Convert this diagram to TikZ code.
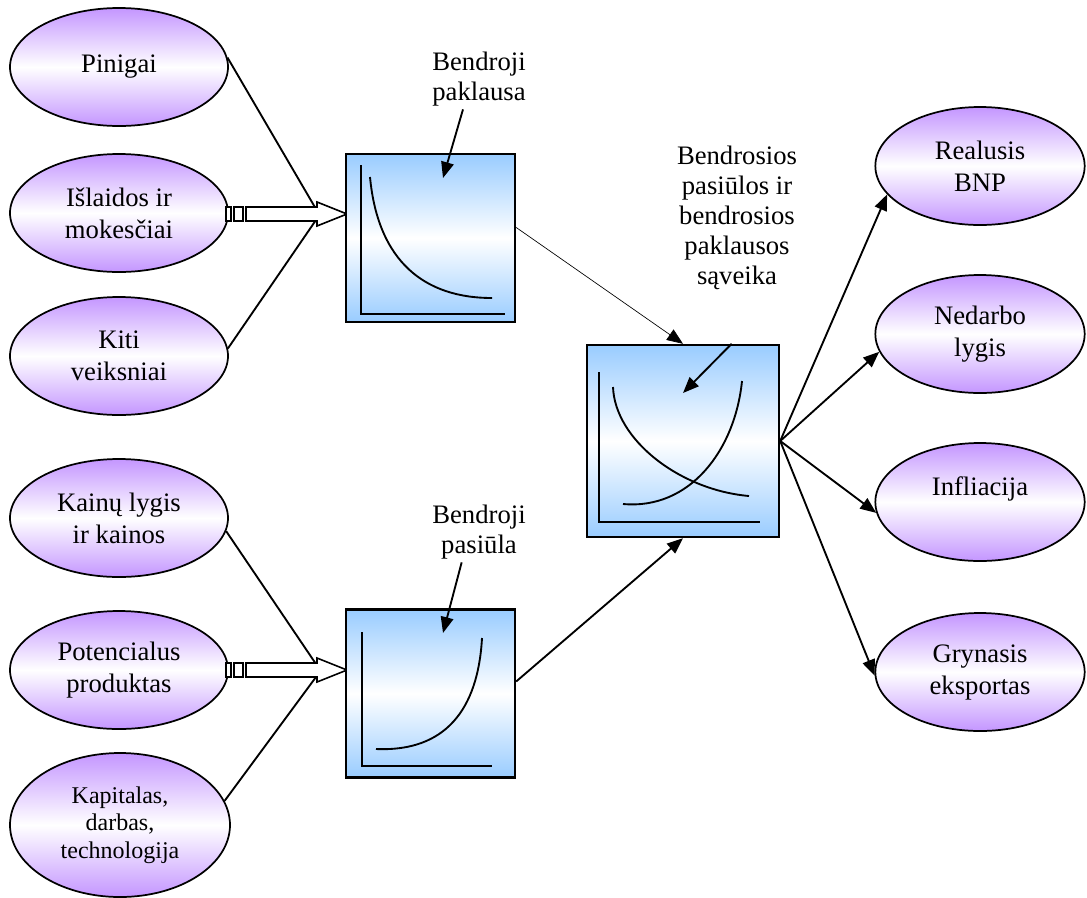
\documentclass[tikz,border=0pt]{standalone}
\usepackage{fontspec}
\setmainfont{Liberation Serif}
\usetikzlibrary{shapes.geometric,arrows.meta,calc}

\definecolor{lila}{RGB}{196,150,255}
\definecolor{melyna}{RGB}{153,204,255}

\tikzset{
  veiksnys/.style={ellipse, draw, line width=1.3pt, top color=lila, bottom color=lila, middle color=white,
    minimum width=163.5pt, minimum height=88.5pt, inner sep=0pt, align=center, font=\fontsize{20}{24}\selectfont},
  rezultatas/.style={veiksnys, minimum width=157pt},
  grafikas/.style={rectangle, draw, line width=1.8pt, top color=melyna, bottom color=melyna, middle color=white,
    minimum width=126.75pt, minimum height=126pt, inner sep=0pt},
  zyme/.style={align=center, inner sep=2pt, font=\fontsize{20}{23}\selectfont},
  linija/.style={line width=1.4pt},
  rodykle/.style={line width=1.4pt, -{Triangle[length=12pt,width=9.5pt]}},
  kreive/.style={line width=1.4pt},
  stripearrow/.pic={
    \draw[line width=1.1pt, fill=white] (0,-7) rectangle (5,7) (8,-7) rectangle (17,7);
    \draw[line width=1.2pt, fill=white] (20,-7) -- (91,-7) -- (91,-12) -- (121,0) -- (91,12) -- (91,7) -- (20,7) -- cycle;
  }
}

\begin{document}
\begin{tikzpicture}[x=0.75pt,y=0.75pt,yscale=-1,xscale=1]
\useasboundingbox (0,0) rectangle (1087,897);

%Ellipses - veiksniai
\node[veiksnys] (pin) at (119,67) {Pinigai};
\node[veiksnys] (isl) at (119,213) {Išlaidos ir\\mokesčiai};
\node[veiksnys] (kit) at (119,356) {Kiti\\veiksniai};
\node[veiksnys] (kai) at (119,518) {Kainų lygis\\ir kainos};
\node[veiksnys] (pot) at (119,670) {Potencialus\\produktas};
\node[veiksnys, minimum width=165pt, minimum height=108pt, font=\fontsize{18}{20.6}\selectfont] (kap) at (120,825) {Kapitalas,\\darbas,\\technologija};

%Ellipses - rezultatai
\node[rezultatas] (bnp) at (980,166) {Realusis\\BNP};
\node[rezultatas] (ned) at (980,334) {Nedarbo\\lygis};
\node[rezultatas] (inf) at (980,502) {Infliacija\\\mbox{}};
\node[rezultatas] (gry) at (980,672) {Grynasis\\eksportas};

%Lines into the striped arrows
\coordinate (inA) at (316,209);
\coordinate (inB) at (316,220);
\coordinate (inC) at (316,664);
\coordinate (inD) at (316,677);
\draw[linija] (pin.5) -- (inA);
\draw[linija] (kit.4) -- (inB);
\draw[linija] (kai.-7) -- (inC);
\draw[linija] (kap.13) -- (inD);

%Striped arrows
\pic at (226,214) {stripearrow};
\pic at (226,670) {stripearrow};

%Graph boxes
\node[grafikas] (dem) at (430.5,238) {};
\node[grafikas] (sup) at (430.5,693.5) {};
\node[grafikas, minimum width=144pt, minimum height=144pt] (sav) at (683,441) {};

%Curves - paklausa
\draw[kreive] (361,165) -- (361,314) -- (505,314);
\draw[kreive] (370,177) .. controls (378,262) and (425,298) .. (492,298);
%Curves - pasiula
\draw[kreive] (362,632) -- (362,766) -- (492,766);
\draw[kreive] (376,749) .. controls (445,752) and (478,710) .. (482,638);
%Curves - saveika
\draw[kreive] (599,372) -- (599,522) -- (760,522);
\draw[kreive] (613,387) .. controls (615,440) and (680,490) .. (749,496);
\draw[kreive] (623,504) .. controls (690,510) and (735,450) .. (742,381);

% Text Nodes
\node[zyme] (lblD) at (479,79) {Bendroji\\paklausa};
\node[zyme] (lblS) at (479,532) {Bendroji\\pasiūla};
\node[zyme, font=\fontsize{20}{22.5}\selectfont] (lblV) at (737,218) {Bendrosios\\pasiūlos ir\\bendrosios\\paklausos\\sąveika};

%Label arrows
\coordinate (dtip) at (443,178);
\coordinate (stipS) at (443,633);
\coordinate (stipV) at (683,393);
\draw[rodykle] ([xshift=-12pt]lblD.south) -- (dtip);
\draw[rodykle] ([xshift=-13pt]lblS.south) -- (stipS);
\draw[rodykle] ($(sav.north)!0.5!(sav.north east)$) -- (stipV);

%Connections between boxes
\draw[line width=0.5pt, -{Triangle[length=12pt,width=9.5pt]}] (dem.7) -- (sav.north);
\draw[rodykle] (sup.8) -- (sav.south);

%Outputs
\draw[rodykle] (sav.east) -- (bnp.197);
\draw[rodykle] (sav.east) -- (ned.190);
\draw[rodykle] (sav.east) -- (inf.186);
\draw[rodykle] (sav.east) -- (gry.182);
\end{tikzpicture}
\end{document}
